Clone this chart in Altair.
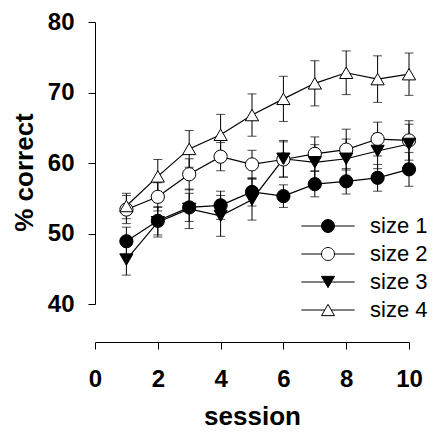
import altair as alt
import pandas as pd

sessions = [1, 2, 3, 4, 5, 6, 7, 8, 9, 10]
series = ["size 1", "size 2", "size 3", "size 4"]

size1 = [48.9, 51.8, 53.7, 54.0, 55.9, 55.3, 57.0, 57.4, 57.9, 59.1]
size2 = [53.4, 55.2, 58.4, 60.9, 59.8, 60.5, 61.3, 61.9, 63.4, 63.2]
size3 = [46.3, 51.6, 53.5, 52.5, 54.8, 60.6, 60.1, 60.6, 61.7, 62.7]
size4 = [53.9, 58.1, 62.0, 64.0, 66.8, 69.1, 71.3, 72.8, 71.9, 72.6]

size1_err = [2.0, 2.0, 2.0, 2.0, 2.0, 1.6, 1.8, 1.8, 1.9, 2.4]
size2_err = [2.0, 2.0, 2.2, 2.0, 2.0, 2.5, 2.4, 2.9, 2.4, 2.8]
size3_err = [2.2, 2.1, 2.8, 2.9, 2.9, 2.6, 2.5, 2.8, 2.5, 2.8]
size4_err = [1.8, 2.4, 2.6, 2.9, 3.0, 3.2, 3.2, 3.1, 3.3, 3.0]

x_ticks = [0, 2, 4, 6, 8, 10]
y_ticks = [40, 50, 60, 70, 80]

rows = []
for name, vals, errs in zip(series, [size1, size2, size3, size4],
                            [size1_err, size2_err, size3_err, size4_err]):
    for s, v, e in zip(sessions, vals, errs):
        rows.append({"session": s, "series": name, "pct": v,
                     "lo": v - e, "hi": v + e})
df = pd.DataFrame(rows)

FONT = "Liberation Sans"

x_enc = alt.X("session:Q", scale=alt.Scale(domain=[0, 10], nice=False, padding=0),
              axis=alt.Axis(values=x_ticks, title="session", offset=38,
                            tickSize=7, labelPadding=18, titlePadding=12,
                            labelFlush=False, format="d"))
y_enc = alt.Y("pct:Q", scale=alt.Scale(domain=[40, 80], nice=False, zero=False,
                                       padding=0),
              axis=alt.Axis(values=y_ticks, title="% correct", tickSize=7,
                            labelPadding=14, titlePadding=10, titleY=150))

base = alt.Chart(df)

lines = base.mark_line(color="black", strokeWidth=1.2).encode(
    x=x_enc, y=y_enc, detail="series:N")

rules = base.mark_rule(color="black", strokeWidth=1).encode(
    x="session:Q", y="lo:Q", y2="hi:Q")
caps_lo = base.mark_tick(color="black", orient="horizontal", size=9,
                         thickness=1).encode(x="session:Q", y="lo:Q")
caps_hi = base.mark_tick(color="black", orient="horizontal", size=9,
                         thickness=1).encode(x="session:Q", y="hi:Q")

points = base.mark_point(filled=True, stroke="black", strokeWidth=1,
                         size=175, opacity=1).encode(
    x="session:Q", y="pct:Q",
    shape=alt.Shape("series:N", legend=None,
                    scale=alt.Scale(domain=series,
                                    range=["circle", "circle",
                                           "triangle-down", "triangle-up"])),
    fill=alt.Fill("series:N", legend=None,
                  scale=alt.Scale(domain=series,
                                  range=["black", "white", "black", "white"])),
)

legend_paths = [
    "M-4.1,0H-1M1,0H4.1M1,0A1,1 0 1,1 -1,0A1,1 0 1,1 1,0Z",
    "M-4.1,0H-1M1,0H4.1M1,0A1,1 0 1,1 -1,0A1,1 0 1,1 1,0Z",
    "M-4.1,0H-0.5M0.5,0H4.1M0,0.866L1,-0.866L-1,-0.866Z",
    "M-4.1,0H-0.5M0.5,0H4.1M0,-0.866L1,0.866L-1,0.866Z",
]

leg = alt.Legend(orient="none", legendX=222, legendY=193, title=None,
                 labelFont=FONT, labelFontSize=22, labelColor="black",
                 symbolSize=169, symbolStrokeWidth=1,
                 symbolStrokeColor="black", symbolOpacity=1,
                 labelOffset=31, rowPadding=6, padding=0)

legend_layer = base.mark_point(filled=True, strokeWidth=1,
                               size=169, opacity=0).encode(
    x="session:Q", y="pct:Q",
    shape=alt.Shape("series:N", legend=leg,
                    scale=alt.Scale(domain=series, range=legend_paths)),
    fill=alt.Fill("series:N", legend=leg,
                  scale=alt.Scale(domain=series,
                                  range=["black", "white", "black", "white"])),
    stroke=alt.Stroke("series:N", legend=leg,
                      scale=alt.Scale(domain=series,
                                      range=["black", "black", "black", "black"])),
)

chart = alt.layer(lines, rules, caps_lo, caps_hi, points, legend_layer).resolve_scale(
    shape="independent", fill="independent", stroke="independent"
).properties(
    width=428, height=421,
    padding={"left": 3, "top": 2, "right": 0, "bottom": 0},
    autosize=alt.AutoSizeParams(type="fit", contains="padding")
).configure_view(stroke=None).configure_axis(
    grid=False, domainColor="black", tickColor="black", domainWidth=1,
    tickWidth=1, labelFont=FONT, labelFontSize=24, labelFontWeight="bold",
    labelColor="black", titleFont=FONT, titleFontSize=26,
    titleFontWeight="bold", titleColor="black"
).configure_legend(labelFont=FONT)

chart.save("out.html", embed_options={"renderer": "svg", "actions": False})
